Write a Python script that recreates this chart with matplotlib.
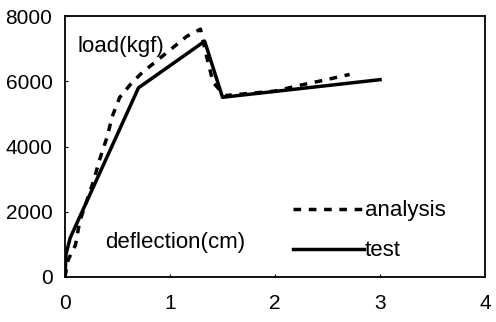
import matplotlib.pyplot as plt

# load-deflection data
test_x = [0, 0.01, 0.05, 0.70, 1.33, 1.50, 3.0]
test_y = [0, 700, 1200, 5800, 7230, 5510, 6050]

analysis_x = [0, 0.03, 0.10, 0.14, 0.27, 0.33, 0.40, 0.45, 0.52, 0.64, 0.74,
              0.87, 1.16, 1.29, 1.35, 1.41, 1.52, 2.0, 2.24, 2.46, 2.71]
analysis_y = [0, 520, 980, 1700, 2920, 3600, 4280, 4920, 5500, 5970, 6280,
              6620, 7380, 7600, 6740, 5970, 5560, 5700, 5880, 6030, 6210]

x_ticks = [0, 1, 2, 3, 4]
y_ticks = [0, 2000, 4000, 6000, 8000]

plt.rcParams['font.family'] = ['Liberation Sans', 'DejaVu Sans']

fig = plt.figure(figsize=(4.96, 3.22), dpi=100)
ax = fig.add_axes([0.131, 0.140, 0.847, 0.810])

ax.plot(analysis_x, analysis_y, color='black', linewidth=2.5,
        linestyle=(0, (2.2, 2.2)), label='analysis')
ax.plot(test_x, test_y, color='black', linewidth=2.5, label='test')

ax.set_xlim(0, 4)
ax.set_ylim(0, 8000)
ax.set_xticks(x_ticks)
ax.set_yticks(y_ticks)
ax.tick_params(direction='in', length=2, labelsize=15)
ax.tick_params(axis='x', pad=12)
ax.tick_params(axis='y', pad=9)
for s in ax.spines.values():
    s.set_linewidth(1.3)

ax.text(0.031, 0.885, 'load(kgf)', transform=ax.transAxes, fontsize=16,
        va='center', ha='left')
ax.text(0.095, 0.131, 'deflection(cm)', transform=ax.transAxes, fontsize=16,
        va='center', ha='left')

ax.legend(loc='lower left', bbox_to_anchor=(0.494, -0.017), frameon=False,
          fontsize=16, handlelength=3.2, handletextpad=0.05, labelspacing=0.85)

fig.savefig('out.png', dpi=100)
